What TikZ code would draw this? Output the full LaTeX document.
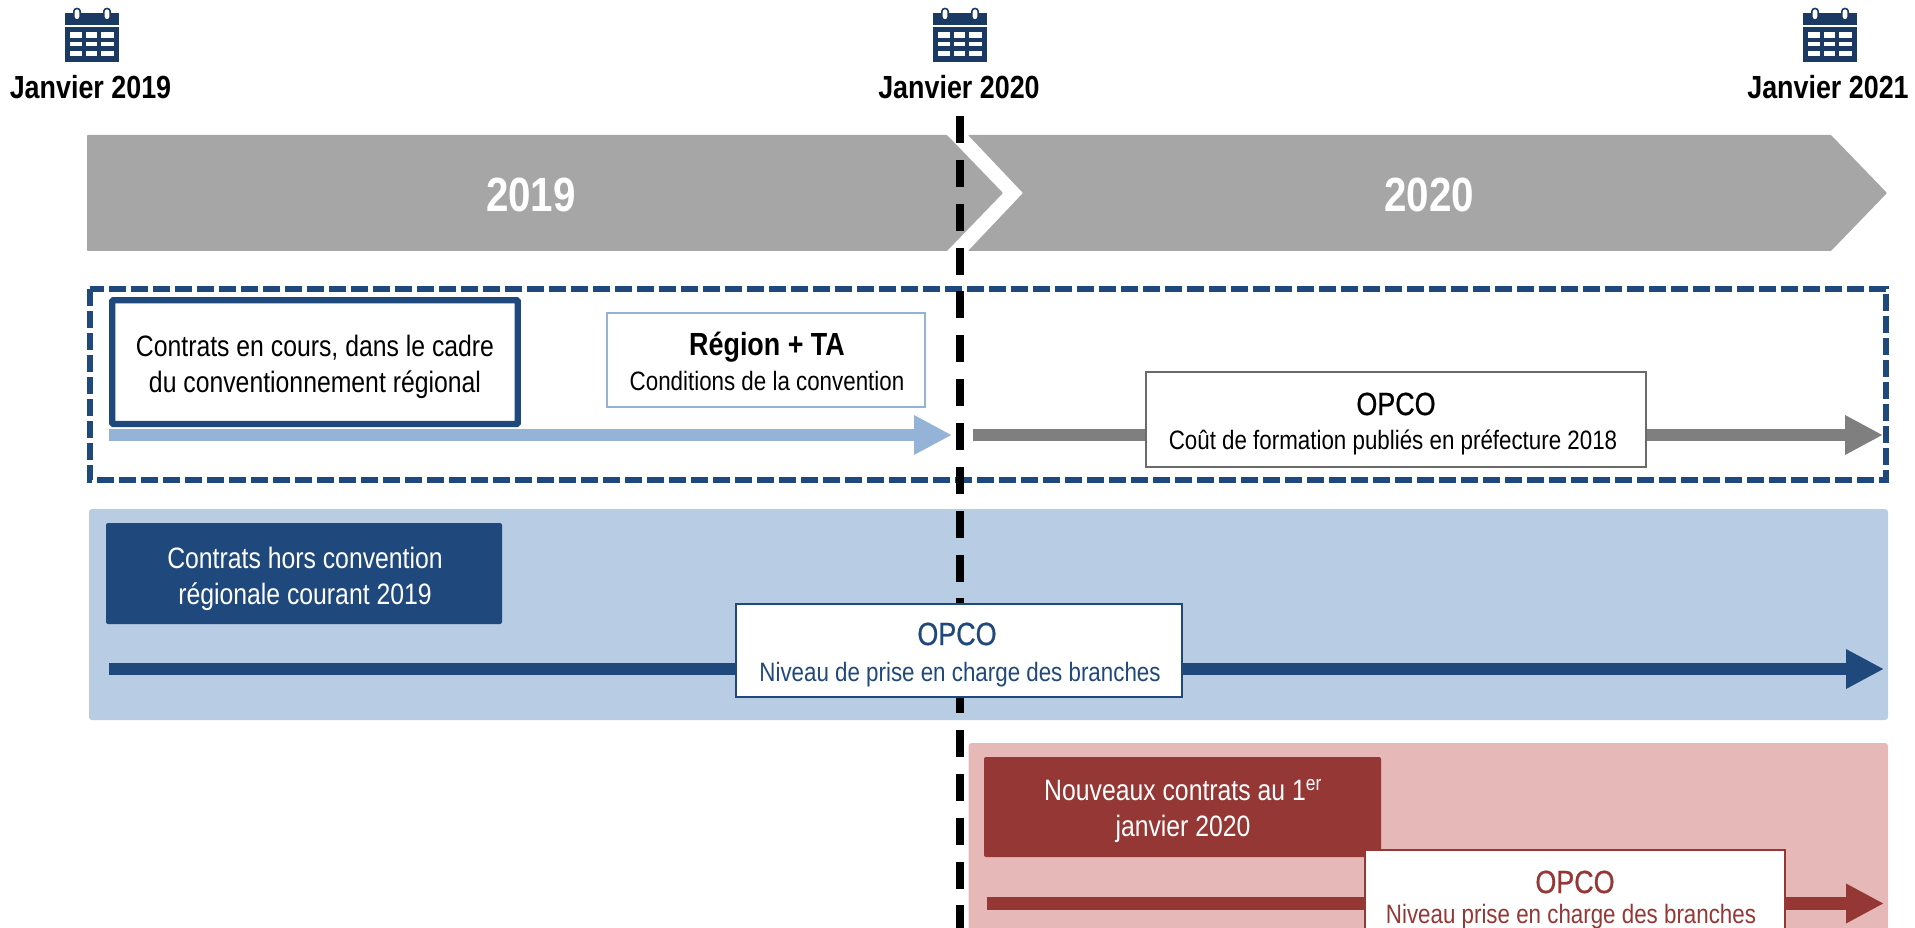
\documentclass[tikz,border=0pt]{standalone}
\usepackage{fontspec}
\setmainfont[FakeStretch=0.84]{Liberation Sans}
\newfontfamily\medfont[FakeStretch=0.84,FakeBold=0.6]{Liberation Sans}
\usetikzlibrary{arrows.meta}
\definecolor{navy}{HTML}{1F497D}
\definecolor{calnavy}{HTML}{1B3A63}
\definecolor{skyband}{HTML}{B8CCE4}
\definecolor{skyline}{HTML}{95B3D7}
\definecolor{rosepanel}{HTML}{E6B8B7}
\definecolor{brick}{HTML}{953735}
\definecolor{chevgray}{HTML}{A6A6A6}
\definecolor{arrowgray}{HTML}{7F7F7F}
\definecolor{boxgray}{HTML}{6A6A6A}
\newcommand{\fs}[2]{\fontsize{#1}{#2}\selectfont}
\tikzset{
  chevron/.style={fill=chevgray,rounded corners=0.8pt},
  year/.style={font=\fs{48}{58}\bfseries,text=white,inner sep=0pt},
  datelabel/.style={font=\fs{32}{36}\bfseries,inner sep=0pt,anchor=base},
  panel/.style={rounded corners=3pt},
  filledbox/.style={rounded corners=2pt,draw=none},
  boxtext/.style={font=\fs{29.5}{36},inner sep=0pt,align=center,anchor=base},
  whitebox/.style={fill=white},
  headtext/.style={font=\medfont\fs{32}{36},inner sep=0pt,anchor=base},
  subtext/.style={font=\fs{26.6}{30},inner sep=0pt,anchor=base},
  flow/.style={line width=12.5pt,-{Triangle[length=38pt,width=37pt]}},
  calicon/.pic={
    \fill[calnavy] (-27,13) rectangle (27,25);
    \fill[calnavy] (-27,27) rectangle (27,62);
    \foreach \xx in {-15,15}{
      \fill[white,draw=calnavy,line width=1.6pt,rounded corners=3pt]
        (\xx-3.2,8.5) rectangle (\xx+3.2,20);
    }
    \foreach \cl/\cr in {-22/-10,-6/5,9/22}{
      \foreach \rt/\rb in {32/38,42/46.5,51/56}{
        \fill[white] (\cl,\rt) rectangle (\cr,\rb);
      }
    }
  }
}
\begin{document}
\begin{tikzpicture}[x=1pt,y=-1pt]
\useasboundingbox (0,0) rectangle (1915,928);
\clip (0,0) rectangle (1915,928);
% calendar icons and dates
\pic at (92,0) {calicon};
\pic at (960,0) {calicon};
\pic at (1830,0) {calicon};
\node[datelabel] (d19) at (90.5,98.5) {Janvier 2019};
\node[datelabel] (d20) at (959,98.5) {Janvier 2020};
\node[datelabel] (d21) at (1828,98.5) {Janvier 2021};
% chevrons
\path[chevron] (87,135) -- (947,135) -- (1003,193) -- (947,251) -- (87,251) -- cycle;
\path[chevron] (968,135) -- (1831,135) -- (1887,193) -- (1831,251) -- (968,251) -- (1023,193) -- cycle;
\node[year] (y19) at (531,194.5) {2019};
\node[year] (y20) at (1429,194.5) {2020};
% dashed frame
\draw[navy,line width=6pt,dash pattern=on 17pt off 5pt] (90,289) rectangle (1886,480);
% panels
\fill[skyband,panel] (89,509) rectangle (1888,720);
\fill[rosepanel,panel] (968.5,743) rectangle (1888,960);
% time marker
\coordinate (marktop) at (960,116);
\coordinate (markbot) at (960,928);
\draw[black,line width=8.7pt,dash pattern=on 27pt off 16.86pt] (marktop) -- (markbot);
% arrows
\coordinate (a1s) at (109,435); \coordinate (a1e) at (952,435);
\coordinate (a2s) at (973,435); \coordinate (a2e) at (1883,435);
\coordinate (a3s) at (109,669); \coordinate (a3e) at (1884,669);
\coordinate (a4s) at (987,903.5); \coordinate (a4e) at (1884,903.5);
\draw[flow,skyline] (a1s) -- (a1e);
\draw[flow,arrowgray] (a2s) -- (a2e);
\draw[flow,navy] (a3s) -- (a3e);
\draw[flow,brick] (a4s) -- (a4e);
% contract boxes
\draw[navy,line width=6.3pt,rounded corners=1pt,fill=white] (112.3,300.3) rectangle (517.7,424);
\node[boxtext] (cct) at (315,392) {Contrats en cours, dans le cadre\\du conventionnement régional};
\draw[skyline,line width=1.5pt,fill=white] (607,313) rectangle (925,407);
\node[headtext,font=\fs{32}{36}\bfseries] (rta) at (767,355) {Région + TA};
\node[subtext] (rtas) at (767,390) {Conditions de la convention};
\draw[boxgray,line width=1.3pt,whitebox] (1146,372) rectangle (1646,467);
\node[headtext] (op1) at (1396,415) {OPCO};
\node[subtext] (op1s) at (1393,449) {Coût de formation publiés en préfecture 2018};
\fill[navy,filledbox] (106,523) rectangle (502,624);
\node[boxtext,text=white] (hc) at (305,604) {Contrats hors convention\\régionale courant 2019};
\draw[navy,line width=1.5pt,whitebox] (736,604) rectangle (1182,697);
\node[headtext,text=navy] (op2) at (957,645) {OPCO};
\node[subtext,text=navy] (op2s) at (960,681) {Niveau de prise en charge des branches};
\fill[brick,filledbox] (984,757) rectangle (1381,857);
\node[boxtext,text=white] (nc) at (1183,836) {Nouveaux contrats au 1\textsuperscript{er}\\janvier 2020};
\draw[brick,line width=1.5pt,whitebox] (1365,850) rectangle (1785,960);
\node[headtext,text=brick] (op3) at (1575,893) {OPCO};
\node[subtext,text=brick] (op3s) at (1571,923) {Niveau prise en charge des branches};
\end{tikzpicture}
\end{document}
